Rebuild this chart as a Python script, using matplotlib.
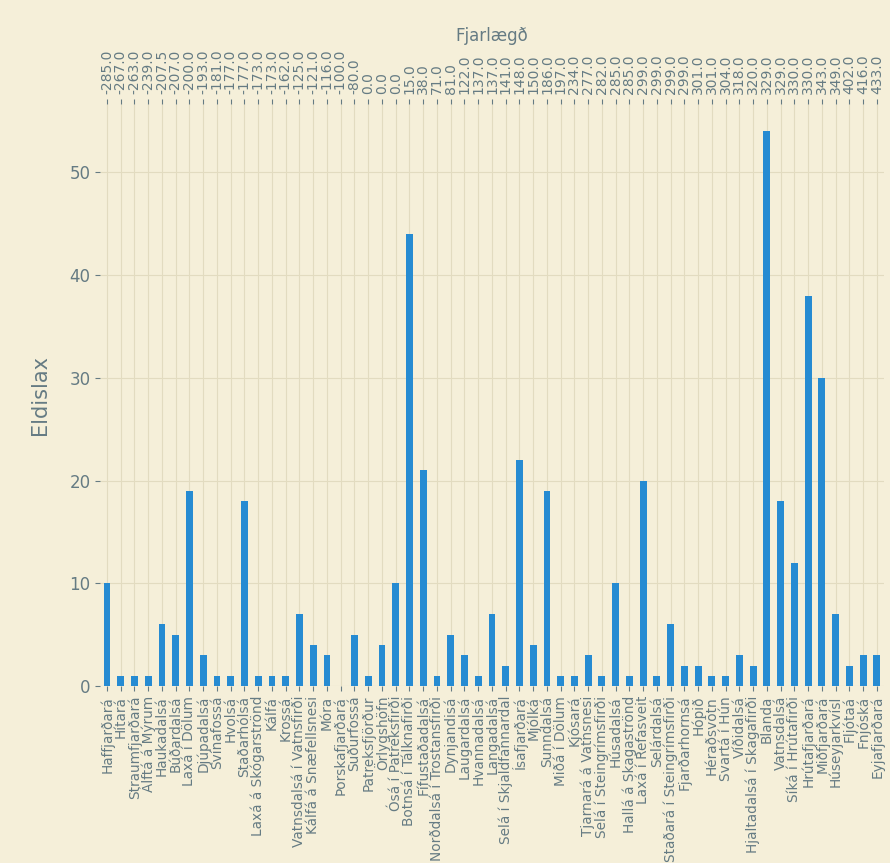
import matplotlib
matplotlib.use("Agg")
import matplotlib.pyplot as plt
import numpy as np

rivers = [
    "Haffjarðará", "Hítará", "Straumfjarðará", "Álftá á Mýrum", "Haukadalsá",
    "Búðardalsá", "Laxá í Dölum", "Djúpadalsá", "Svínafossá", "Hvolsá",
    "Staðarhólsá", "Laxá á Skógarströnd", "Kálfá", "Krossá",
    "Vatnsdalsá í Vatnsfirði", "Kálfá á Snæfellsnesi", "Móra",
    "Þorskafjarðará", "Suðurfossá", "Patreksfjörður", "Örlygshöfn",
    "Ósá í Patreksfirði", "Botnsá í Tálknafirði", "Fífustaðadalsá",
    "Norðdalsá í Trostansfirði", "Dynjandisá", "Laugardalsá", "Hvannadalsá",
    "Langadalsá", "Selá í Skjaldfannardal", "Ísafjarðará", "Mjólká",
    "Sunndalsá", "Miðá í Dölum", "Kjósará", "Tjarnará á Vatnsnesi",
    "Selá í Steingrímsfirði", "Húsadalsá", "Hallá á Skagaströnd",
    "Laxá í Refasveit", "Selárdalsá", "Staðará í Steingrímsfirði",
    "Fjarðarhornsá", "Hópið", "Héraðsvötn", "Svartá í Hún", "Víðidalsá",
    "Hjaltadalsá í Skagafirði", "Blanda", "Vatnsdalsá", "Síká í Hrútafirði",
    "Hrútafjarðará", "Miðfjarðará", "Húseyjarkvísl", "Fljótaá", "Fnjóská",
    "Eyjafjarðará",
]

eldislax = [
    10, 1, 1, 1, 6, 5, 19, 3, 1, 1,
    18, 1, 1, 1, 7, 4, 3, 0, 5, 1,
    4, 10, 44, 21, 1, 5, 3, 1, 7, 2,
    22, 4, 19, 1, 1, 3, 1, 10, 1, 20,
    1, 6, 2, 2, 1, 1, 3, 2, 54, 18,
    12, 38, 30, 7, 2, 3, 3,
]

fjarlaegd = [
    -285.0, -267.0, -263.0, -239.0, -207.5, -207.0, -200.0, -193.0, -181.0,
    -177.0, -177.0, -173.0, -173.0, -162.0, -125.0, -121.0, -116.0, -100.0,
    -80.0, 0.0, 0.0, 0.0, 15.0, 38.0, 71.0, 81.0, 122.0, 137.0, 137.0,
    141.0, 148.0, 150.0, 186.0, 197.0, 234.0, 277.0, 282.0, 285.0, 285.0,
    299.0, 299.0, 299.0, 299.0, 301.0, 301.0, 304.0, 318.0, 320.0, 329.0,
    329.0, 330.0, 330.0, 343.0, 349.0, 402.0, 416.0, 433.0,
]

plt.style.use("Solarize_Light2")
bg = "#f5efd9"

fig, ax = plt.subplots(figsize=(8.9, 8.63), dpi=100)
fig.patch.set_facecolor(bg)
ax.set_facecolor(bg)

x = np.arange(len(rivers))
ax.bar(x, eldislax, width=0.5, color="#268BD2")
ax.set_xlim(-0.5, len(rivers) - 0.5)
ax.set_xticks(x)
ax.set_xticklabels(rivers, rotation=90, fontsize=9.8)
ax.set_ylabel("Eldislax", fontsize=15, labelpad=14)
ax.tick_params(axis="y", labelsize=12)
ax.grid(True, color="#e2dbc0", linewidth=0.8)

ax2 = ax.twiny()
ax2.set_xlim(ax.get_xlim())
ax2.set_xticks(x)
ax2.set_xticklabels([f"{v:.1f}" for v in fjarlaegd], rotation=90, fontsize=10)
ax2.set_xlabel("Fjarlægð", fontsize=12, labelpad=6)
ax2.grid(False)

for a in (ax, ax2):
    for s in a.spines.values():
        s.set_visible(False)

fig.subplots_adjust(left=0.1125, right=0.993, top=0.88, bottom=0.205)
fig.savefig("out.png", facecolor=bg)
